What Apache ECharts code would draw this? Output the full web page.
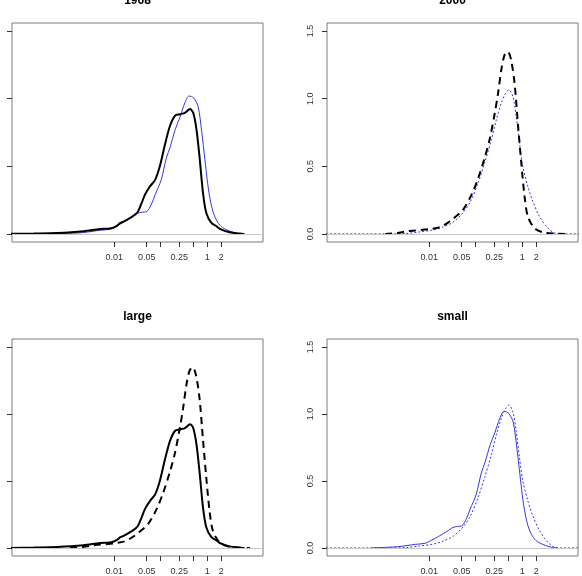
<!DOCTYPE html>
<html>
<head>
<meta charset="utf-8">
<script src="https://cdn.jsdelivr.net/npm/echarts@6/dist/echarts.min.js"></script>
<style>
html,body{margin:0;padding:0;background:#fff;}
#chart{width:582px;height:576px;}
</style>
</head>
<body>
<div id="chart"></div>
<script>
// Panel titles
const panelTitles = ['1968', '2000', 'large', 'small'];

// Axis ranges (x in log10 units)
const xRange = [-4.2, 1.2];
const yRange = [-0.06, 1.56];

// Tick values (original scale) and labels
const xTickValues = [0.01, 0.05, 0.1, 0.25, 0.5, 1, 2];
const xLabelValues = [0.01, 0.05, 0.25, 1, 2];
const xLabelTexts = ['0.01', '0.05', '0.25', '1', '2'];
const yTickValues = [0, 0.5, 1.0, 1.5];
const yLabelTexts = ['0.0', '0.5', '1.0', '1.5'];

// Density curves: x in log10 units, y density
// large firms, 1968 (black solid)
const large1968X = [-4.3, -3.73, -3.23, -2.66, -2.30, -2.09, -1.94, -1.87, -1.80, -1.66, -1.51, -1.41, -1.34, -1.23, -1.12, -1.02, -0.91, -0.80, -0.69, -0.59, -0.48, -0.37, -0.30, -0.23, -0.16, -0.09, -0.02, 0.09, 0.20, 0.27, 0.48, 0.70, 0.80];
const large1968Y = [0, 0.003, 0.007, 0.02, 0.037, 0.04, 0.06, 0.081, 0.09, 0.118, 0.155, 0.229, 0.29, 0.352, 0.40, 0.50, 0.66, 0.80, 0.875, 0.885, 0.895, 0.923, 0.894, 0.77, 0.55, 0.30, 0.155, 0.081, 0.056, 0.037, 0.012, 0.002, 0];
// large firms, 2000 (black dashed)
const large2000X = [-2.95, -2.7, -2.5, -2.3, -2.0, -1.77, -1.59, -1.49, -1.27, -1.09, -0.95, -0.81, -0.70, -0.59, -0.52, -0.45, -0.38, -0.31, -0.24, -0.165, -0.094, -0.02, 0.05, 0.12, 0.26, 0.44, 0.73, 0.92];
const large2000Y = [0, 0.005, 0.018, 0.025, 0.035, 0.05, 0.085, 0.11, 0.18, 0.29, 0.41, 0.56, 0.70, 0.894, 1.04, 1.213, 1.324, 1.349, 1.287, 1.115, 0.82, 0.524, 0.278, 0.13, 0.044, 0.012, 0.002, 0];
// small firms, 1968 (blue solid)
const small1968X = [-3.26, -2.9, -2.66, -2.30, -2.09, -1.94, -1.80, -1.59, -1.51, -1.41, -1.30, -1.20, -1.12, -0.99, -0.88, -0.80, -0.69, -0.59, -0.48, -0.39, -0.29, -0.195, -0.12, -0.05, 0.0, 0.05, 0.12, 0.20, 0.30, 0.44, 0.60, 0.76];
const small1968Y = [0, 0.005, 0.01, 0.027, 0.035, 0.06, 0.086, 0.13, 0.15, 0.16, 0.165, 0.22, 0.29, 0.40, 0.56, 0.64, 0.77, 0.86, 0.97, 1.02, 1.005, 0.94, 0.76, 0.55, 0.40, 0.28, 0.17, 0.10, 0.055, 0.027, 0.008, 0];
// small firms, 2000 (blue dotted)
const small2000X = [-4.3, -3.0, -2.5, -2.2, -1.9, -1.70, -1.49, -1.31, -1.13, -0.95, -0.81, -0.664, -0.557, -0.45, -0.358, -0.287, -0.201, -0.129, -0.058, 0.013, 0.12, 0.227, 0.37, 0.548, 0.69, 0.9, 1.3];
const small2000Y = [0, 0, 0.003, 0.015, 0.03, 0.052, 0.086, 0.143, 0.229, 0.377, 0.524, 0.696, 0.844, 0.967, 1.04, 1.066, 1.016, 0.869, 0.672, 0.50, 0.352, 0.241, 0.13, 0.044, 0.007, 0, 0];

const FONT = "'Liberation Sans', Arial, Helvetica, sans-serif";
const BLUE = '#3535e6';

function pairs(xs, ys) { return xs.map((x, i) => [x, ys[i]]); }

const styles = {
  large1968: { color: '#000', width: 2, type: 'solid' },
  large2000: { color: '#000', width: 2, type: [7, 5] },
  small1968: { color: BLUE, width: 1, type: 'solid' },
  small2000: { color: BLUE, width: 1, type: [2, 2] }
};
const curves = {
  large1968: pairs(large1968X, large1968Y),
  large2000: pairs(large2000X, large2000Y),
  small1968: pairs(small1968X, small1968Y),
  small2000: pairs(small2000X, small2000Y)
};
// which curves per panel
const panelCurves = [
  ['large1968', 'small1968'],
  ['large2000', 'small2000'],
  ['large1968', 'large2000'],
  ['small1968', 'small2000']
];

const gridPos = [
  { left: 12, top: 23 },
  { left: 327, top: 23 },
  { left: 12, top: 339 },
  { left: 327, top: 339 }
];
const titleTop = [-5, 311];

const xTickPos = xTickValues.map(v => Math.log10(v));
const xLabelPos = xLabelValues.map(v => Math.log10(v));

const grids = [], xAxes = [], yAxes = [], series = [], titles = [];
gridPos.forEach((g, i) => {
  grids.push({ left: g.left, top: g.top, width: 251, height: 219, show: true, borderColor: '#7a7a7a', borderWidth: 1, backgroundColor: 'transparent' });
  titles.push({
    text: panelTitles[i], left: g.left + 125.5, top: titleTop[i < 2 ? 0 : 1], textAlign: 'center', padding: 0,
    textStyle: { fontSize: 12, fontWeight: 'bold', color: '#000', fontFamily: FONT }
  });
  xAxes.push({
    gridIndex: i, type: 'value', min: xRange[0], max: xRange[1], position: 'bottom',
    axisLine: { show: false, onZero: false }, splitLine: { show: false },
    axisTick: { show: true, inside: false, customValues: xTickPos, length: 5, lineStyle: { color: '#333', width: 1 } },
    axisLabel: {
      show: true, customValues: xLabelPos, margin: 11, fontSize: 9, color: '#333', fontFamily: FONT,
      formatter: v => { const k = xLabelPos.findIndex(p => Math.abs(p - v) < 1e-6); return k >= 0 ? xLabelTexts[k] : ''; }
    }
  });
  const right = (i % 2 === 1);
  yAxes.push({
    gridIndex: i, type: 'value', min: yRange[0], max: yRange[1], position: 'left',
    axisLine: { show: false, onZero: false }, splitLine: { show: false },
    axisTick: { show: true, inside: false, customValues: yTickValues, length: 5, lineStyle: { color: '#333', width: 1 } },
    axisLabel: {
      show: right, customValues: yTickValues, rotate: 90, margin: 12, fontSize: 9, color: '#333', fontFamily: FONT,
      formatter: v => { const k = yTickValues.findIndex(p => Math.abs(p - v) < 1e-6); return k >= 0 ? yLabelTexts[k] : ''; }
    }
  });
  // zero reference line
  series.push({
    type: 'line', xAxisIndex: i, yAxisIndex: i, data: [], z: 1, silent: true,
    markLine: { silent: true, symbol: ['none', 'none'], label: { show: false }, animation: false,
      lineStyle: { color: '#c8c8c8', type: 'solid', width: 1 }, data: [{ yAxis: 0 }] }
  });
  panelCurves[i].forEach((name, j) => {
    const s = styles[name];
    series.push({
      name: name, type: 'line', xAxisIndex: i, yAxisIndex: i, data: curves[name],
      showSymbol: false, symbol: 'none', smooth: 0.3, clip: true, z: 3 + (j === 0 ? 1 : 0),
      lineStyle: { color: s.color, width: s.width, type: s.type }, animation: false
    });
  });
});

const chart = echarts.init(document.getElementById('chart'), null, { renderer: 'canvas' });
chart.setOption({
  backgroundColor: '#fff',
  animation: false,
  title: titles,
  grid: grids,
  xAxis: xAxes,
  yAxis: yAxes,
  series: series
});
</script>
</body>
</html>
